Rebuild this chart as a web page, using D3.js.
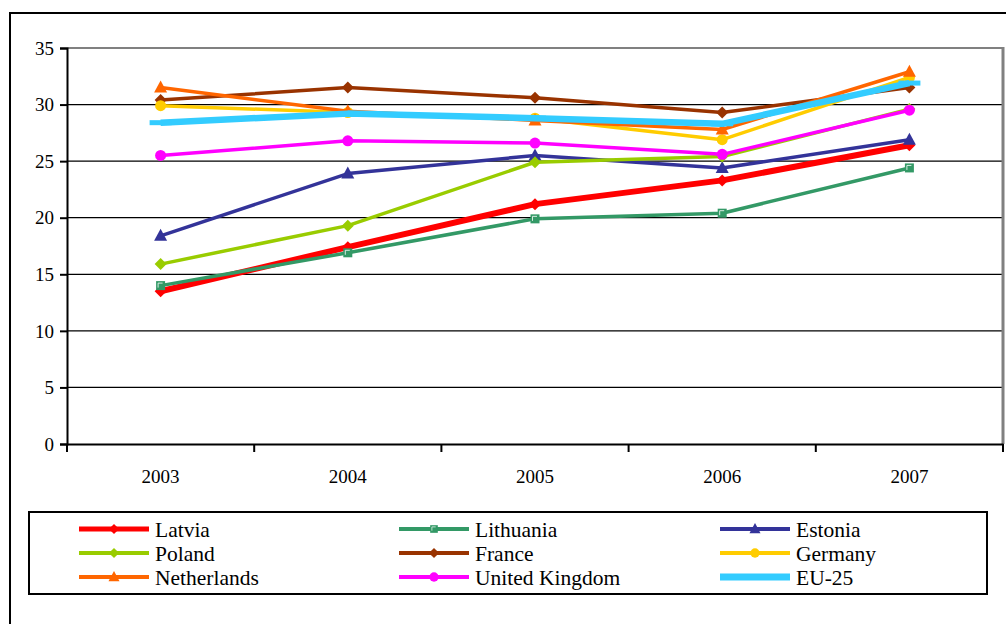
<!DOCTYPE html>
<html>
<head>
<meta charset="utf-8">
<script src="https://cdn.jsdelivr.net/npm/d3@7"></script>
<style>
  html, body { margin: 0; padding: 0; background: #fff; }
  svg { display: block; }
</style>
</head>
<body>
<svg id="chart" width="1006" height="624"></svg>
<script>
// Index values by year
const years = ["2003", "2004", "2005", "2006", "2007"];
const yTicks = [0, 5, 10, 15, 20, 25, 30, 35];

const latvia        = [13.5, 17.4, 21.2, 23.3, 26.4];
const lithuania     = [14.0, 16.9, 19.9, 20.4, 24.4];
const estonia       = [18.4, 23.9, 25.5, 24.4, 26.9];
const poland        = [15.9, 19.3, 24.9, 25.4, 29.6];
const france        = [30.4, 31.5, 30.6, 29.3, 31.5];
const germany       = [29.9, 29.3, 28.8, 26.9, 32.4];
const netherlands   = [31.5, 29.4, 28.6, 27.8, 32.9];
const unitedKingdom = [25.5, 26.8, 26.6, 25.6, 29.5];
const eu25          = [28.4, 29.2, 28.8, 28.3, 31.9];

const seriesNames = ["Latvia", "Lithuania", "Estonia", "Poland", "France",
                     "Germany", "Netherlands", "United Kingdom", "EU-25"];
const seriesValues = [latvia, lithuania, estonia, poland, france,
                      germany, netherlands, unitedKingdom, eu25];

const FONT = "'Liberation Serif', 'Times New Roman', Times, 'DejaVu Serif', serif";

// Appearance of each series, keyed by name
const look = {
  "Latvia":         { color: "#ff0000", width: 6,   legendWidth: 5, marker: "diamond" },
  "Lithuania":      { color: "#339966", width: 3.5, legendWidth: 4, marker: "square" },
  "Estonia":        { color: "#333399", width: 3.5, legendWidth: 4, marker: "triangle" },
  "Poland":         { color: "#99cc00", width: 3.5, legendWidth: 4, marker: "diamond" },
  "France":         { color: "#993300", width: 3.5, legendWidth: 4, marker: "diamond" },
  "Germany":        { color: "#ffcc00", width: 3.5, legendWidth: 4, marker: "circle" },
  "Netherlands":    { color: "#ff6600", width: 3.5, legendWidth: 4, marker: "triangle" },
  "United Kingdom": { color: "#ff00ff", width: 3.5, legendWidth: 4, marker: "circle" },
  "EU-25":          { color: "#33ccff", width: 6.5, legendWidth: 7, marker: "dash" }
};

const series = seriesNames.map((name, i) => ({
  name,
  points: years.map((yr, j) => ({ year: yr, value: seriesValues[i][j] })),
  ...look[name]
}));

const svg = d3.select("#chart");

// Outer frame of the figure
svg.append("rect")
  .attr("x", 10).attr("y", 13)
  .attr("width", 1100).attr("height", 700)
  .attr("fill", "none").attr("stroke", "#000").attr("stroke-width", 2);

const plot = { left: 67, right: 1003, top: 48, bottom: 444 };

const x = d3.scaleBand().domain(years).range([plot.left, plot.right]);
const y = d3.scaleLinear().domain([0, 35]).range([plot.bottom, plot.top]);
const cx = d => x(d) + x.bandwidth() / 2;

// Horizontal gridlines
svg.append("g")
  .selectAll("line")
  .data(yTicks.filter(t => t > 0 && t < 35))
  .join("line")
  .attr("x1", plot.left).attr("x2", plot.right)
  .attr("y1", d => y(d)).attr("y2", d => y(d))
  .attr("stroke", "#000").attr("stroke-width", 1.3);

// Plot area border (top and right)
svg.append("line")
  .attr("x1", plot.left).attr("x2", plot.right)
  .attr("y1", y(35)).attr("y2", y(35))
  .attr("stroke", "#808080").attr("stroke-width", 2);
svg.append("line")
  .attr("x1", plot.right).attr("x2", plot.right)
  .attr("y1", y(35) - 1).attr("y2", y(0))
  .attr("stroke", "#808080").attr("stroke-width", 3);

// Y axis
const yAxis = svg.append("g")
  .attr("transform", `translate(${plot.left},0)`)
  .call(d3.axisLeft(y).tickValues(yTicks).tickSize(7).tickPadding(6))
  .attr("font-family", FONT).attr("font-size", 19);
yAxis.select(".domain").attr("stroke", "#000").attr("stroke-width", 2);
yAxis.selectAll(".tick line").attr("stroke", "#000").attr("stroke-width", 2);
yAxis.selectAll(".tick text").attr("dy", "0.33em");

// X axis: labels centred on categories, ticks on category boundaries
const xAxis = svg.append("g")
  .attr("transform", `translate(0,${plot.bottom})`)
  .call(d3.axisBottom(x).tickSize(0).tickPadding(26))
  .attr("font-family", FONT).attr("font-size", 19);
xAxis.select(".domain").attr("stroke", "#000").attr("stroke-width", 2);
xAxis.append("g")
  .selectAll("line")
  .data(years.map(d => x(d)).concat([x.range()[1]]))
  .join("line")
  .attr("x1", d => d).attr("x2", d => d)
  .attr("y1", 0).attr("y2", 8)
  .attr("stroke", "#000").attr("stroke-width", 2);

// Marker drawing
function drawMarker(g, kind, color) {
  if (kind === "diamond") {
    g.append("path").attr("d", "M0,-6L6,0L0,6L-6,0Z").attr("fill", color);
  } else if (kind === "square") {
    g.append("rect").attr("x", -4.5).attr("y", -4.5).attr("width", 9).attr("height", 9)
      .attr("fill", color);
    g.append("path").attr("d", "M-2.5,2L-2.5,-2.5L2,-2.5")
      .attr("fill", "none").attr("stroke", "#ffffff").attr("stroke-opacity", 0.8).attr("stroke-width", 1);
  } else if (kind === "triangle") {
    g.append("path").attr("d", "M0,-7L6.5,5L-6.5,5Z").attr("fill", color);
  } else if (kind === "circle") {
    g.append("circle").attr("r", 5.5).attr("fill", color);
  } else if (kind === "dash") {
    g.append("rect").attr("x", -11).attr("y", -2.5).attr("width", 22).attr("height", 5)
      .attr("fill", color);
  }
}

const line = d3.line().x(d => cx(d.year)).y(d => y(d.value));

// Series lines and markers, drawn in series order
series.forEach(s => {
  const g = svg.append("g");
  g.append("path")
    .datum(s.points)
    .attr("d", line)
    .attr("fill", "none")
    .attr("stroke", s.color)
    .attr("stroke-width", s.width)
    .attr("stroke-linejoin", "round");
  g.selectAll("g.marker")
    .data(s.points)
    .join("g")
    .attr("class", "marker")
    .attr("transform", d => `translate(${cx(d.year)},${y(d.value)})`)
    .each(function () { drawMarker(d3.select(this), s.marker, s.color); });
});

// Legend
const legend = svg.append("g").attr("font-family", FONT).attr("font-size", 21.5);
legend.append("rect")
  .attr("x", 29).attr("y", 512).attr("width", 958).attr("height", 82)
  .attr("fill", "#fff").attr("stroke", "#000").attr("stroke-width", 2);

const colX = [79, 399, 720];
const rowY = [529, 553, 577];
series.forEach((s, i) => {
  const lx = colX[i % 3], ly = rowY[Math.floor(i / 3)];
  const item = legend.append("g").attr("transform", `translate(${lx},${ly})`);
  item.append("line")
    .attr("x1", 0).attr("x2", 70).attr("y1", 0).attr("y2", 0)
    .attr("stroke", s.color).attr("stroke-width", s.legendWidth);
  const m = item.append("g").attr("transform", "translate(35,0) scale(0.85)");
  drawMarker(m, s.marker, s.color);
  item.append("text")
    .attr("x", 76).attr("y", 7.5)
    .attr("fill", "#000")
    .text(s.name);
});
</script>
</body>
</html>
